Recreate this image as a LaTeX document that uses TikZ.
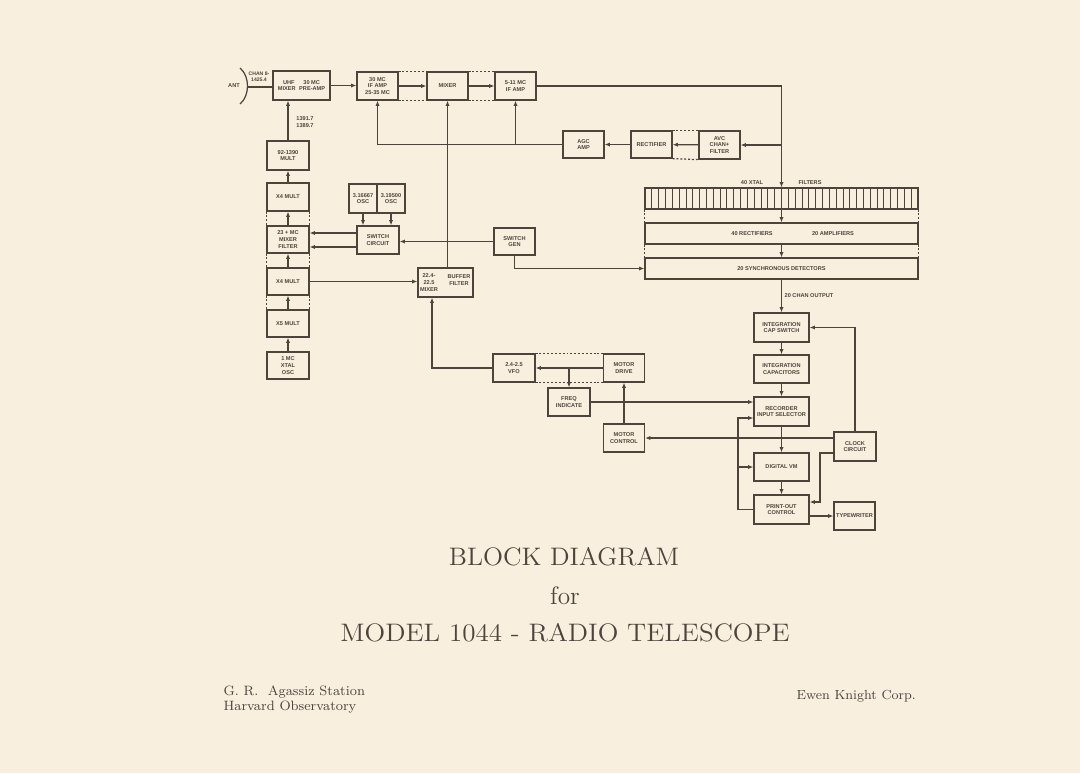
\documentclass[tikz,border=0pt]{standalone}
\usepackage{fontspec}
\usepackage{graphicx}
\setsansfont{Liberation Sans}
\usetikzlibrary{arrows.meta}
\definecolor{paper}{RGB}{248,239,222}
\definecolor{ink}{RGB}{78,68,60}
\newcommand\boxfont{\fontsize{3.2}{3.9}\selectfont\sffamily\bfseries}
\newcommand\headfont{\fontsize{14.4}{17}\selectfont}
\tikzset{
  blk/.style 2 args={draw=ink, line width=0.7pt, minimum width=#1*0.2mm,
    minimum height=#2*0.2mm, inner sep=0pt, align=center, text=ink, font=\boxfont},
  tag/.style={inner sep=0pt, align=center, text=ink, font=\boxfont},
  gang/.style={dash pattern=on 1.1pt off 1.1pt},
  >={Latex[length=3pt,width=2.4pt]}
}
\begin{document}
\begin{tikzpicture}[x=0.2mm, y=-0.2mm, line width=0.7pt, draw=ink]
  \fill[paper] (0,0) rectangle (1080,773);
  \useasboundingbox (0,0) rectangle (1080,773);
  % front end
  \node[tag] (antlbl) at (234,86) {ANT};
  \draw (240,68) .. controls (250,76) and (250,96) .. (240,104);
  \coordinate (ant) at (248,87);
  \node[tag, font=\fontsize{2.9}{3.6}\selectfont\sffamily\bfseries] (chan) at (259,77) {CHAN 8-\\1425.4};
  \node[blk={57}{29}] (uhf) at (301.5,85.5) {UHF\hspace{5pt}30 MC\\MIXER\hspace{2pt}PRE-AMP};
  \node[blk={41}{28}] (ifa) at (377.5,86) {30 MC\\IF AMP\\25-35 MC};
  \node[blk={41}{28}] (mix) at (447.5,86) {MIXER};
  \node[blk={41}{28}] (ifb) at (515.5,86) {5-11 MC\\IF AMP};
  \draw (ant) -- (ant -| uhf.west);
  \draw[->] (uhf.east) -- (uhf.east -| ifa.west);
  \draw[->] (ifa) -- (mix);
  \draw[->] (mix) -- (ifb);
  \draw[gang] (ifa.north east) -- (mix.north west);
  \draw[gang] (ifa.south east) -- (mix.south west);
  \draw[gang] (mix.north east) -- (ifb.north west);
  \draw[gang] (mix.south east) -- (ifb.south west);
  % agc loop
  \node[blk={41}{27}] (agc) at (583.5,144.5) {AGC\\AMP};
  \node[blk={41}{27}] (rect) at (651.5,144.5) {RECTIFIER};
  \node[blk={41}{28}] (avc) at (719.5,145) {AVC\\CHAN+\\FILTER};
  \draw[gang] (rect.north east) -- (avc.north west);
  \draw[gang] (rect.south east) -- (avc.south west);
  \draw[->] (avc) -- (rect);
  \draw[->] (rect) -- (agc);
  \draw[->] (agc.west) -| (ifa.south);
  \draw[->] (agc.west -| ifb.south) -- (ifb.south);
  % filter bank
  \node[blk={273}{21}] (xtal) at (781.5,198.5) {};
  \foreach \i in {1,...,39}
    \draw[line width=0.5pt] (645+\i*6.825,188) -- (645+\i*6.825,209);
  \node[tag] (xtlbl) at (752,183) {40 XTAL};
  \node[tag] (ftlbl) at (810,183) {FILTERS};
  \node[blk={273}{21}] (rects) at (781.5,233.5) {};
  \node[tag] (rclbl) at (752,233.5) {40 RECTIFIERS};
  \node[tag] (amlbl) at (833,233.5) {20 AMPLIFIERS};
  \node[blk={273}{21}] (sync) at (781.5,268.5) {20 SYNCHRONOUS DETECTORS};
  \draw[->] (ifb.east) -| (xtal.north);
  \coordinate (tap) at (xtal.north |- avc.east);
  \draw[->] (tap) -- (avc.east);
  \draw[->] (xtal) -- (rects);
  \draw[->] (rects) -- (sync);
  \draw[gang] (xtal.south west) -- (rects.north west);
  \draw[gang] (xtal.south east) -- (rects.north east);
  \draw[gang] (rects.south west) -- (sync.north west);
  \draw[gang] (rects.south east) -- (sync.north east);
  % recorder chain
  \node[blk={55}{29}] (capsw) at (781.5,327.5) {INTEGRATION\\CAP SWITCH};
  \node[blk={55}{28}] (caps) at (781.5,369) {INTEGRATION\\CAPACITORS};
  \node[blk={55}{29}] (recsel) at (781.5,411.5) {RECORDER\\INPUT SELECTOR};
  \node[blk={55}{28}] (dvm) at (781.5,467) {DIGITAL VM};
  \node[blk={55}{29}] (print) at (781.5,509.5) {PRINT-OUT\\CONTROL};
  \node[blk={41}{28}] (typ) at (854.5,516) {TYPEWRITER};
  \node[blk={42}{29}] (clock) at (855,446.5) {CLOCK\\CIRCUIT};
  \draw[->] (sync) -- (capsw);
  \node[tag, anchor=west] (chanout) at (784,296) {20 CHAN OUTPUT};
  \draw[->] (capsw) -- (caps);
  \draw[->] (caps) -- (recsel);
  \draw[->] (recsel) -- (dvm);
  \draw[->] (dvm) -- (print);
  \draw[->] (typ.west -| print.east) -- (typ.west);
  \draw[->] (clock.north) |- (capsw.east);
  \coordinate (ck) at (820,453);
  \draw[->] (clock.west |- ck) -- (ck) |- ([yshift=1.5mm]print.east);
  \coordinate (lp) at (738,0);
  \draw[->] (print.west) -- (print.west -| lp) |- ([yshift=-1.3mm]recsel.west);
  \draw[->] (dvm.west -| lp) -- (dvm.west);
  % tuning
  \node[blk={41}{28}] (motctl) at (624,438) {MOTOR\\CONTROL};
  \node[blk={41}{28}] (motdrv) at (624,368) {MOTOR\\DRIVE};
  \node[blk={42}{28}] (vfo) at (514,368) {2.4-2.5\\VFO};
  \node[blk={42}{28}] (freq) at (569,402) {FREQ\\INDICATE};
  \draw[->] (clock.west |- motctl.east) -- (motctl.east);
  \draw[->] (freq.east) -- (freq.east -| recsel.west);
  \draw[->] (motctl) -- (motdrv);
  \draw[->] (motdrv) -- (vfo);
  \draw[->] (motdrv.west -| freq.north) -- (freq.north);
  \draw[gang] (vfo.north east) -- (motdrv.north west);
  \draw[gang] (vfo.south east) -- (motdrv.south west);
  \node[blk={55}{29}] (buf) at (445.5,282.5) {};
  \node[tag] (buflbl) at (429,282.5) {22.4-\\22.5\\MIXER};
  \node[tag] (filtlbl) at (459,280) {BUFFER\\FILTER};
  \draw[->] (vfo.west) -| ([xshift=-2.7mm]buf.south);
  \draw[->] (mix.south |- buf.north) -- (mix.south);
  % switching
  \node[blk={41}{27}] (swgen) at (514.5,241.5) {SWITCH\\GEN};
  \node[blk={42}{28}] (swc) at (378,240) {SWITCH\\CIRCUIT};
  \node[blk={28}{29}] (osca) at (363,198.5) {3.16667\\OSC};
  \node[blk={28}{29}] (oscb) at (391,198.5) {3.19500\\OSC};
  \draw[->] (swgen.south) |- (sync.west);
  \draw[->] (swgen.west) -- (swgen.west -| swc.east);
  \draw[->] (osca.south) -- (osca.south |- swc.north);
  \draw[->] (oscb.south) -- (oscb.south |- swc.north);
  % local oscillator chain
  \node[blk={42}{29}] (m92) at (288,155.5) {92-1390\\MULT};
  \node[blk={42}{28}] (x4a) at (288,197) {X4 MULT};
  \node[blk={42}{27}] (mixf) at (288,239.5) {23 + MC\\MIXER\\FILTER};
  \node[blk={42}{27}] (x4b) at (288,281.5) {X4 MULT};
  \node[blk={42}{27}] (x5) at (288,323.5) {X5 MULT};
  \node[blk={42}{27}] (xosc) at (288,365.5) {1 MC\\XTAL\\OSC};
  \draw[->] ([yshift=1.4mm]swc.west) -- ([yshift=1.4mm]swc.west -| mixf.east);
  \draw[->] ([yshift=-1.4mm]swc.west) -- ([yshift=-1.4mm]swc.west -| mixf.east);
  \draw[->] (x4b.east) -- (x4b.east -| buf.west);
  \draw[->] (xosc) -- (x5);
  \draw[->] (x5) -- (x4b);
  \draw[->] (x4b) -- (mixf);
  \draw[->] (mixf) -- (x4a);
  \draw[->] (x4a) -- (m92);
  \draw[->] (m92.north) -- (m92.north |- uhf.south);
  \node[tag] (lofreq) at (305,122) {1391.7\\1389.7};
  \foreach \a/\b in {x4a/mixf, mixf/x4b, x4b/x5} {
    \draw[gang] (\a.south west) -- (\b.north west);
    \draw[gang] (\a.south east) -- (\b.north east);
  }
  % titles
  \node[text=ink, font=\headfont] (title) at (564,557) {\scalebox{1.035}[1]{BLOCK DIAGRAM}};
  \node[text=ink, font=\headfont] (for) at (565,596) {for};
  \node[text=ink, font=\headfont] (model) at (565,633) {\scalebox{1.07}[1]{MODEL 1044 - RADIO TELESCOPE}};
  \node[text=ink, font=\fontsize{7.7}{8.9}\selectfont, anchor=north west, align=left, inner sep=0pt] (station) at (223,685) {G. R.\ \ Agassiz Station\\Harvard Observatory};
  \node[text=ink, font=\fontsize{7.5}{8.9}\selectfont, anchor=west, inner sep=0pt] (corp) at (796,696) {Ewen Knight Corp.};
\end{tikzpicture}
\end{document}
